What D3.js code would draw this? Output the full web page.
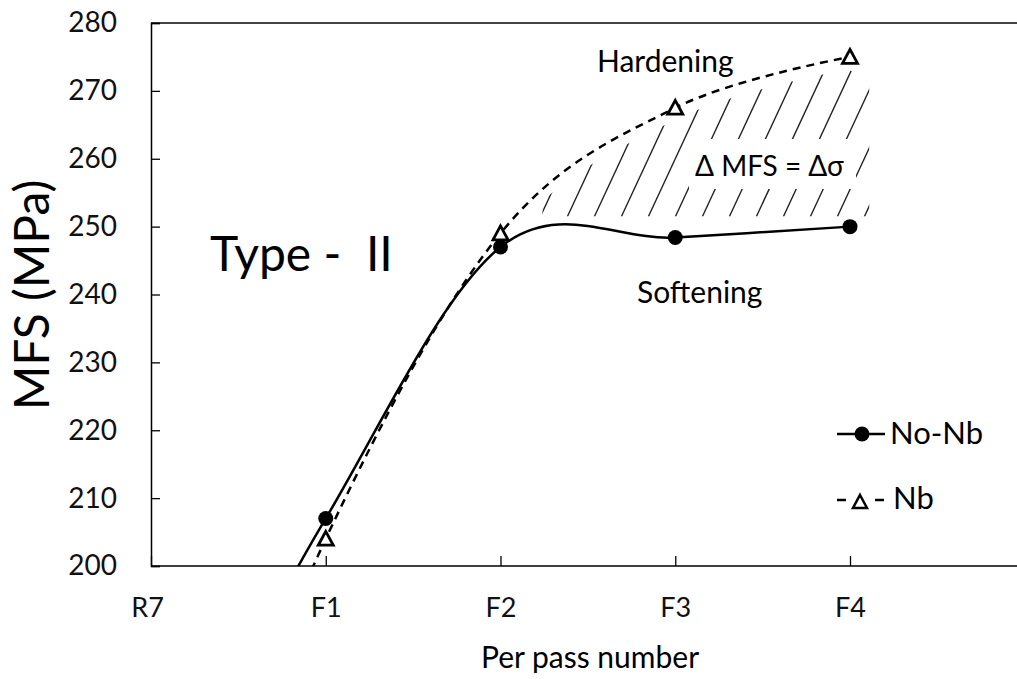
<!DOCTYPE html>
<html>
<head>
<meta charset="utf-8">
<script src="https://cdn.jsdelivr.net/npm/d3@7"></script>
<style>
  body { margin: 0; background: #fff; }
  svg { display: block; font-family: Lato, "Open Sans", sans-serif; }
</style>
</head>
<body>
<svg id="chart" width="1017" height="679"></svg>
<script>
// categories on the x axis (one empty slot after F4, cut off by the frame)
var categories = ['R7', 'F1', 'F2', 'F3', 'F4'];
// MFS values (MPa); the R7 values lie below the axis and are clipped
var noNb = [160, 207, 247, 248.4, 250];
var nb = [140, 204, 249, 267.5, 275];
var yTicks = [200, 210, 220, 230, 240, 250, 260, 270, 280];

var svg = d3.select('#chart');
var plotLeft = 151, plotTop = 23, plotBottom = 566, plotRight = 1017;

var x = d3.scaleLinear().domain([0, 5]).range([plotLeft, plotLeft + 5 * 174.75]);
var y = d3.scaleLinear().domain([200, 280]).range([plotBottom, plotTop]);

var defs = svg.append('defs');
defs.append('clipPath').attr('id', 'plotClip')
    .append('rect')
    .attr('x', plotLeft).attr('y', plotTop)
    .attr('width', plotRight - plotLeft).attr('height', plotBottom - plotTop);

// frame: top border
svg.append('line')
    .attr('x1', plotLeft).attr('x2', plotRight)
    .attr('y1', plotTop).attr('y2', plotTop)
    .style('stroke', '#444').style('stroke-width', 2);

// y axis, ticks inside
var yAxis = svg.append('g')
    .attr('transform', 'translate(' + plotLeft + ',0)')
    .call(d3.axisLeft(y).tickValues(yTicks).tickSize(-9).tickPadding(34));
yAxis.select('.domain').style('stroke', '#000').style('stroke-width', 1.5);
yAxis.selectAll('.tick line').style('stroke', '#000').style('stroke-width', 1.3);
yAxis.selectAll('text').style('font-size', '28px').style('fill', '#111')
    .style('font-family', 'Lato, sans-serif');

// x axis, ticks inside
var xAxis = svg.append('g')
    .attr('transform', 'translate(0,' + plotBottom + ')')
    .call(d3.axisBottom(x).tickValues(d3.range(categories.length))
        .tickFormat(function (d) { return categories[d]; })
        .tickSize(-10).tickPadding(32));
xAxis.select('.domain').attr('d', 'M' + plotLeft + ',0H' + plotRight)
    .style('stroke', '#000').style('stroke-width', 1.5);
xAxis.selectAll('.tick line').style('stroke', '#000').style('stroke-width', 1.3);
xAxis.selectAll('text').style('font-size', '27px').style('fill', '#111')
    .style('font-family', 'Lato, sans-serif');
xAxis.selectAll('.tick text').filter(function (d) { return d === 0; }).attr('dx', -4);

// axis titles
svg.append('text')
    .attr('transform', 'translate(49,' + 295 + ') rotate(-90)')
    .style('text-anchor', 'middle')
    .style('font-size', '48px')
    .text('MFS (MPa)');
svg.append('text')
    .attr('x', 590).attr('y', 668)
    .style('text-anchor', 'middle')
    .style('font-size', '30px')
    .text('Per pass number');

var line = d3.line()
    .x(function (d, i) { return x(i); })
    .y(function (d) { return y(d); })
    .curve(d3.curveCardinal.tension(0));

var plot = svg.append('g').attr('clip-path', 'url(#plotClip)');

var nbPath = plot.append('path')
    .datum(nb)
    .attr('d', line)
    .style('fill', 'none')
    .style('stroke', '#000')
    .style('stroke-width', 2.5)
    .style('stroke-dasharray', '8,6');

plot.append('path')
    .datum(noNb)
    .attr('d', line)
    .style('fill', 'none')
    .style('stroke', '#000')
    .style('stroke-width', 2.5);

// hatched region between hardening and softening
var hx0 = x(2.24), hx1 = x(4.11), hBase = y(251.5);
var node = nbPath.node();
var len = node.getTotalLength();
var pts = [];
for (var l = 0; l <= len; l += 3) {
    var p = node.getPointAtLength(l);
    if (p.x >= hx0 && p.x <= x(4)) pts.push([p.x, p.y + 12]);
}
var lastY = pts[pts.length - 1][1];
pts.push([hx1, lastY + 8]);
pts.push([hx1, hBase]);
pts.push([hx0, hBase]);
defs.append('clipPath').attr('id', 'hatchClip')
    .append('path')
    .attr('d', 'M' + pts.map(function (p) { return p.join(','); }).join('L') + 'Z');

var hatch = svg.append('g').attr('clip-path', 'url(#hatchClip)');
var slope = 2.15, hLen = 220;
for (var hxStart = hx0 - 110; hxStart < hx1; hxStart += 27) {
    hatch.append('line')
        .attr('x1', hxStart).attr('y1', hBase)
        .attr('x2', hxStart + hLen / slope).attr('y2', hBase - hLen)
        .style('stroke', '#222').style('stroke-width', 1.4);
}

// delta label with a white box cut out of the hatch
var dText = svg.append('text')
    .attr('x', 695).attr('y', 176)
    .style('font-size', '28px')
    .text('\u0394 MFS = \u0394\u03c3');
var bb = dText.node().getBBox();
svg.insert('rect', function () { return dText.node(); })
    .attr('x', bb.x - 6).attr('y', bb.y - 9)
    .attr('width', bb.width + 18).attr('height', bb.height + 16)
    .style('fill', '#fff');

// markers
function triPath(s) {
    return 'M0,' + (-s) + 'L' + s + ',' + (s * 0.85) + 'L' + (-s) + ',' + (s * 0.85) + 'Z';
}
svg.selectAll('.dot')
    .data(noNb.map(function (d, i) { return { v: d, i: i }; }).filter(function (d) { return d.v >= 200; }))
    .enter()
    .append('circle')
    .attr('cx', function (d) { return x(d.i); })
    .attr('cy', function (d) { return y(d.v); })
    .attr('r', 7.5)
    .style('fill', '#000');
svg.selectAll('.tri')
    .data(nb.map(function (d, i) { return { v: d, i: i }; }).filter(function (d) { return d.v >= 200; }))
    .enter()
    .append('path')
    .attr('d', triPath(7.5))
    .attr('transform', function (d) { return 'translate(' + x(d.i) + ',' + y(d.v) + ')'; })
    .style('fill', '#fff')
    .style('stroke', '#000')
    .style('stroke-width', 2.8);

// annotations
svg.append('text')
    .attr('x', 210).attr('y', 271)
    .style('font-size', '48px')
    .style('white-space', 'pre')
    .text('Type -  II');
svg.append('text')
    .attr('x', 597).attr('y', 72)
    .style('font-size', '30px')
    .text('Hardening');
svg.append('text')
    .attr('x', 637).attr('y', 303)
    .style('font-size', '30px')
    .text('Softening');

// legend
var lg = svg.append('g');
lg.append('line')
    .attr('x1', 837).attr('x2', 885).attr('y1', 434).attr('y2', 434)
    .style('stroke', '#000').style('stroke-width', 2.5);
lg.append('circle').attr('cx', 862).attr('cy', 434).attr('r', 7.5).style('fill', '#000');
lg.append('text')
    .attr('x', 890).attr('y', 444)
    .style('font-size', '31px')
    .text('No-Nb');
lg.append('line')
    .attr('x1', 837).attr('x2', 846).attr('y1', 500).attr('y2', 500)
    .style('stroke', '#000').style('stroke-width', 2.5);
lg.append('line')
    .attr('x1', 875).attr('x2', 884).attr('y1', 500).attr('y2', 500)
    .style('stroke', '#000').style('stroke-width', 2.5);
lg.append('path')
    .attr('d', triPath(7))
    .attr('transform', 'translate(860,502)')
    .style('fill', '#fff').style('stroke', '#000').style('stroke-width', 2.5);
lg.append('text')
    .attr('x', 893).attr('y', 509)
    .style('font-size', '31px')
    .text('Nb');
</script>
</body>
</html>
